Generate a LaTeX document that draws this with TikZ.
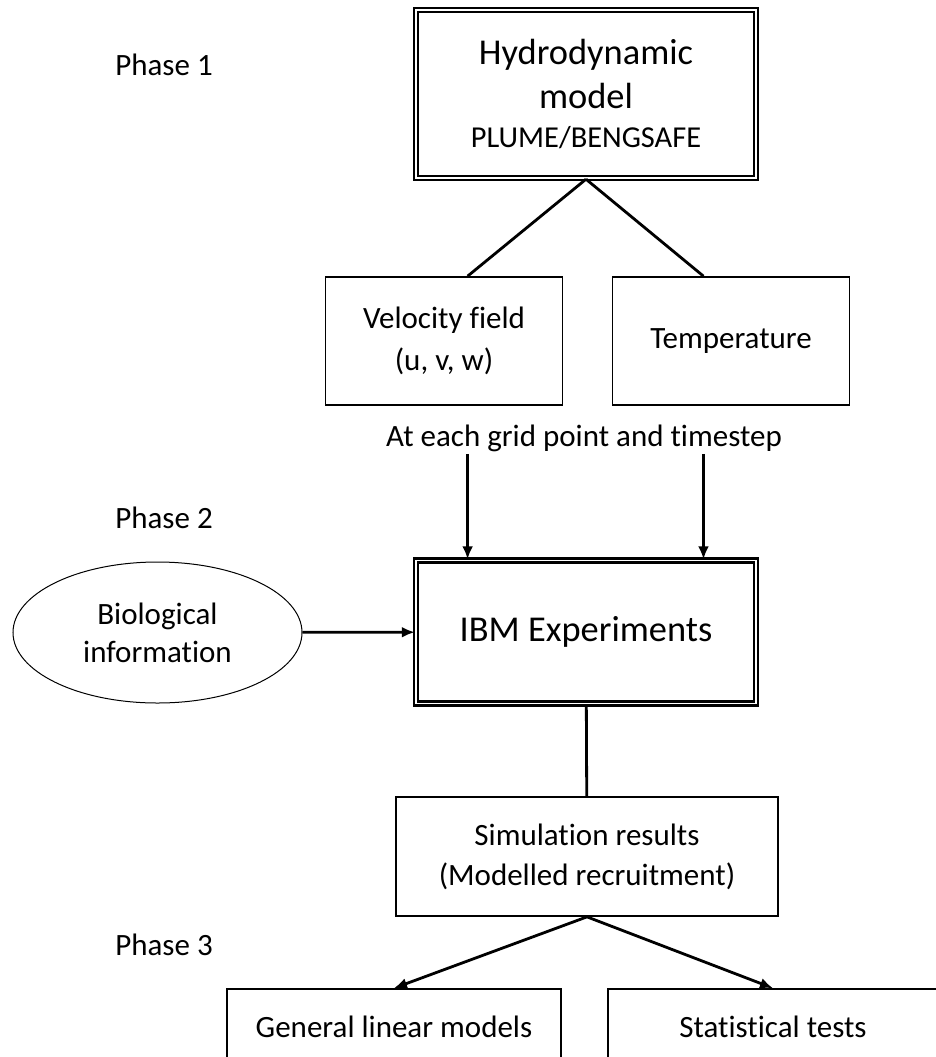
\documentclass[tikz,border=0pt]{standalone}
\usepackage{fontspec}
\setmainfont{Carlito}[Ligatures=NoCommon]
\usetikzlibrary{positioning}
\usetikzlibrary{shapes.geometric}
\usetikzlibrary{arrows.meta}

\begin{document}
\begin{tikzpicture}
[
x=0.5pt, y=-0.5pt,
>={Latex[length=6.5pt,width=5.5pt]},
font=\fontsize{15.5pt}{20pt}\selectfont,
box-a/.style={rectangle,draw,line width=0.85pt,align=center,inner sep=0pt},
box-b/.style={rectangle,draw,double,line width=1.2pt,double distance=0.9pt,align=center,inner sep=0pt},
oval-a/.style={ellipse,draw,line width=0.5pt,align=center,inner sep=0pt},
text-a/.style={black,inner sep=1pt},
text-b/.style={font=\fontsize{18.2pt}{22pt}\selectfont},
link-a/.style={line width=1.4pt},
]
\useasboundingbox (0,0) rectangle (936,1057);
\node (p1)  [text-a]                                              at (164,65)   {Phase 1};
\node (p2)  [text-a]                                              at (164,518)  {Phase 2};
\node (p3)  [text-a]                                              at (164,945)  {Phase 3};
\node (hm)  [box-b, text-b, minimum width=170pt, minimum height=84pt]   at (586,94)   {Hydrodynamic\\model\\[-2pt]{\fontsize{15.2pt}{18pt}\selectfont PLUME/BENGSAFE}};
\node (vf)  [box-a, minimum width=118.5pt, minimum height=64pt]   at (444,341)  {Velocity field\\[1pt](u, v, w)};
\node (tp)  [box-a, minimum width=118.5pt, minimum height=64pt]   at (731,341)  {Temperature};
\node (gp)  [text-a]                                              at (584,438)  {At each grid point and timestep};
\node (ibm) [box-b, text-b, minimum width=170pt, minimum height=71.5pt] at (586,632)  {IBM Experiments};
\node (bio) [oval-a, minimum width=144.5pt, minimum height=70.5pt] at (157.5,632.5) {Biological\\[-1pt]information};
\node (sr)  [box-a, minimum width=191pt, minimum height=59.5pt]   at (587,856.5) {Simulation results\\(Modelled recruitment)};
\node (glm) [box-a, minimum width=167pt, minimum height=38pt]     at (394,1027) {General linear models};
\node (st)  [box-a, minimum width=165pt, minimum height=38pt]     at (773,1027) {Statistical tests};
\draw [link-a]    (hm.south) -- (vf.70);
\draw [link-a]    (hm.south) -- (tp.113);
\draw [link-a,->] (gp.south -| vf.70)  -- (ibm.north -| vf.70);
\draw [link-a,->] (gp.south -| tp.113) -- (ibm.north -| tp.113);
\draw [link-a,->] (bio) -- (ibm);
\draw [link-a]    (ibm) -- (sr);
\draw [link-a,->] (sr.south) -- (glm.north);
\draw [link-a,->] (sr.south) -- (st.north);
\end{tikzpicture}
\end{document}
